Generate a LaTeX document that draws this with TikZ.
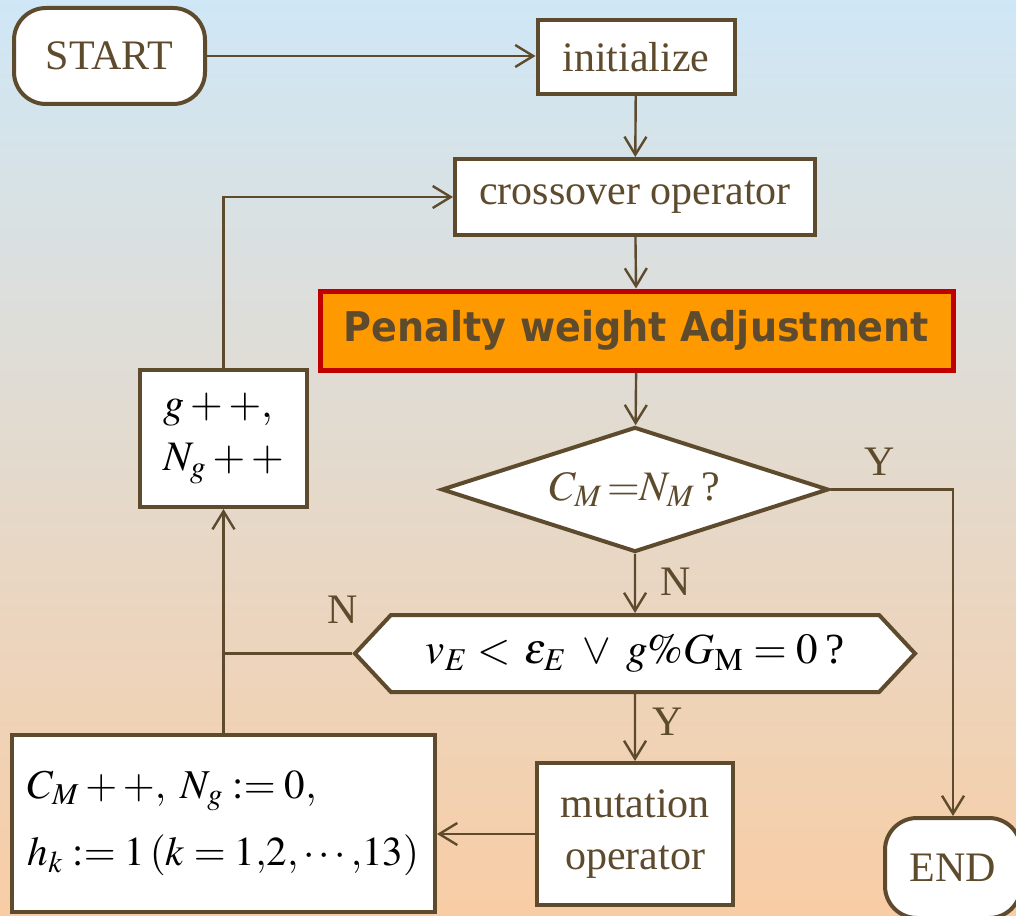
\documentclass[tikz,border=0pt]{standalone}
\usepackage{mathptmx}
\usepackage[no-math]{fontspec}
\setmainfont{Liberation Serif}
\newfontfamily\penfont[FakeStretch=0.93]{DejaVu Sans}
\usetikzlibrary{shapes.geometric,shapes.symbols,arrows.meta}
\definecolor{linebrown}{RGB}{94,75,45}
\definecolor{skytop}{RGB}{207,231,246}
\definecolor{midgray}{RGB}{226,224,221}
\definecolor{peach}{RGB}{248,205,165}
\definecolor{penorange}{RGB}{255,153,0}
\definecolor{penred}{RGB}{192,0,0}
\begin{document}
\begin{tikzpicture}[x=0.5pt, y=-0.5pt,
  every node/.style={text=linebrown, font=\fontsize{21}{26}\selectfont},
  blk/.style={draw=linebrown, line width=2pt, fill=white, inner sep=0pt},
  term/.style={blk, rounded corners=16pt},
  arr/.style={draw=linebrown, line width=1.2pt, -{Straight Barb[length=9pt,width=11pt]}},
  lnk/.style={draw=linebrown, line width=1.2pt}]
\useasboundingbox (0,0) rectangle (1016,915);
\clip (0,0) rectangle (1016,915);
\shade[top color=skytop, middle color=midgray, bottom color=peach] (0,0) rectangle (1016,915);
% main column
\node[term, minimum width=95.5pt, minimum height=48pt] (start) at (109.5,56) {START};
\node[blk, minimum width=98.5pt, minimum height=37pt] (init) at (636,57) {initialize};
\node[blk, minimum width=180pt, minimum height=38pt] (cross) at (635,197) {crossover operator};
\node[draw=penred, line width=2.5pt, fill=penorange, inner sep=0pt, minimum width=316.5pt, minimum height=39.5pt,
  font=\penfont\bfseries\fontsize{20.5}{24}\selectfont] (pen) at (636.5,330.5) {Penalty weight Adjustment};
\node[blk, shape=diamond, aspect=3.1, minimum width=193.5pt, minimum height=62.5pt] (diam) at (635,489.5) {$C_{M}\,{=}N_{M}$\,?};
\node[blk, shape=signal, signal to=east and west, signal pointer angle=94, minimum width=280pt, minimum height=38.5pt,
  text=black, font=\fontsize{21.5}{26}\selectfont] (hex) at (635,653.5) {$v_{E} < \,\varepsilon_{E} \;\vee\; g\%G_{\mathrm{M}} = 0$\,?};
\node[blk, minimum width=98pt, minimum height=71pt, align=center] (mut) at (635,834) {mutation\\operator};
\node[term, minimum width=68pt, minimum height=50pt] (end) at (953,868) {END};
% left column
\node[blk, minimum width=211.5pt, minimum height=88.5pt, align=left, text=black,
  font=\fontsize{20.5}{33.5}\selectfont] (cm) at (223.5,823.5)
  {$C_{M} + +,\ N_{g} \mathrel{:=} 0,$\\$h_{k} \mathrel{:=} 1\,(k = 1{,}2{,}\cdots{,}13)$};
\node[blk, minimum width=83.5pt, minimum height=68.5pt, align=left, text=black,
  font=\fontsize{21}{26.5}\selectfont] (g) at (223.5,438.5) {$g + +,$\\$N_{g} + +$};
% branch labels
\node (ydiam) at (880,462) {Y};
\node (ndiam) at (676,582) {N};
\node (yhex) at (668,722) {Y};
\node (nhex) at (343,610) {N};
% connectors
\draw[arr] (start.east) -- (start.east -| init.west);
\draw[arr] (init) -- (cross);
\draw[arr] (cross) -- (pen);
\draw[arr] (pen) -- (diam);
\draw[arr] (diam) -- (hex);
\draw[arr] (hex) -- (mut);
\draw[arr] (diam.east) -| (end.north);
\draw[arr] (mut.west) -- (mut.west -| cm.east);
\draw[arr] (cm) -- (g);
\coordinate (join) at (g.south |- hex.west);
\draw[lnk] (hex.west) -- (join);
\draw[arr] (g.north) |- (cross.west);
\end{tikzpicture}
\end{document}
